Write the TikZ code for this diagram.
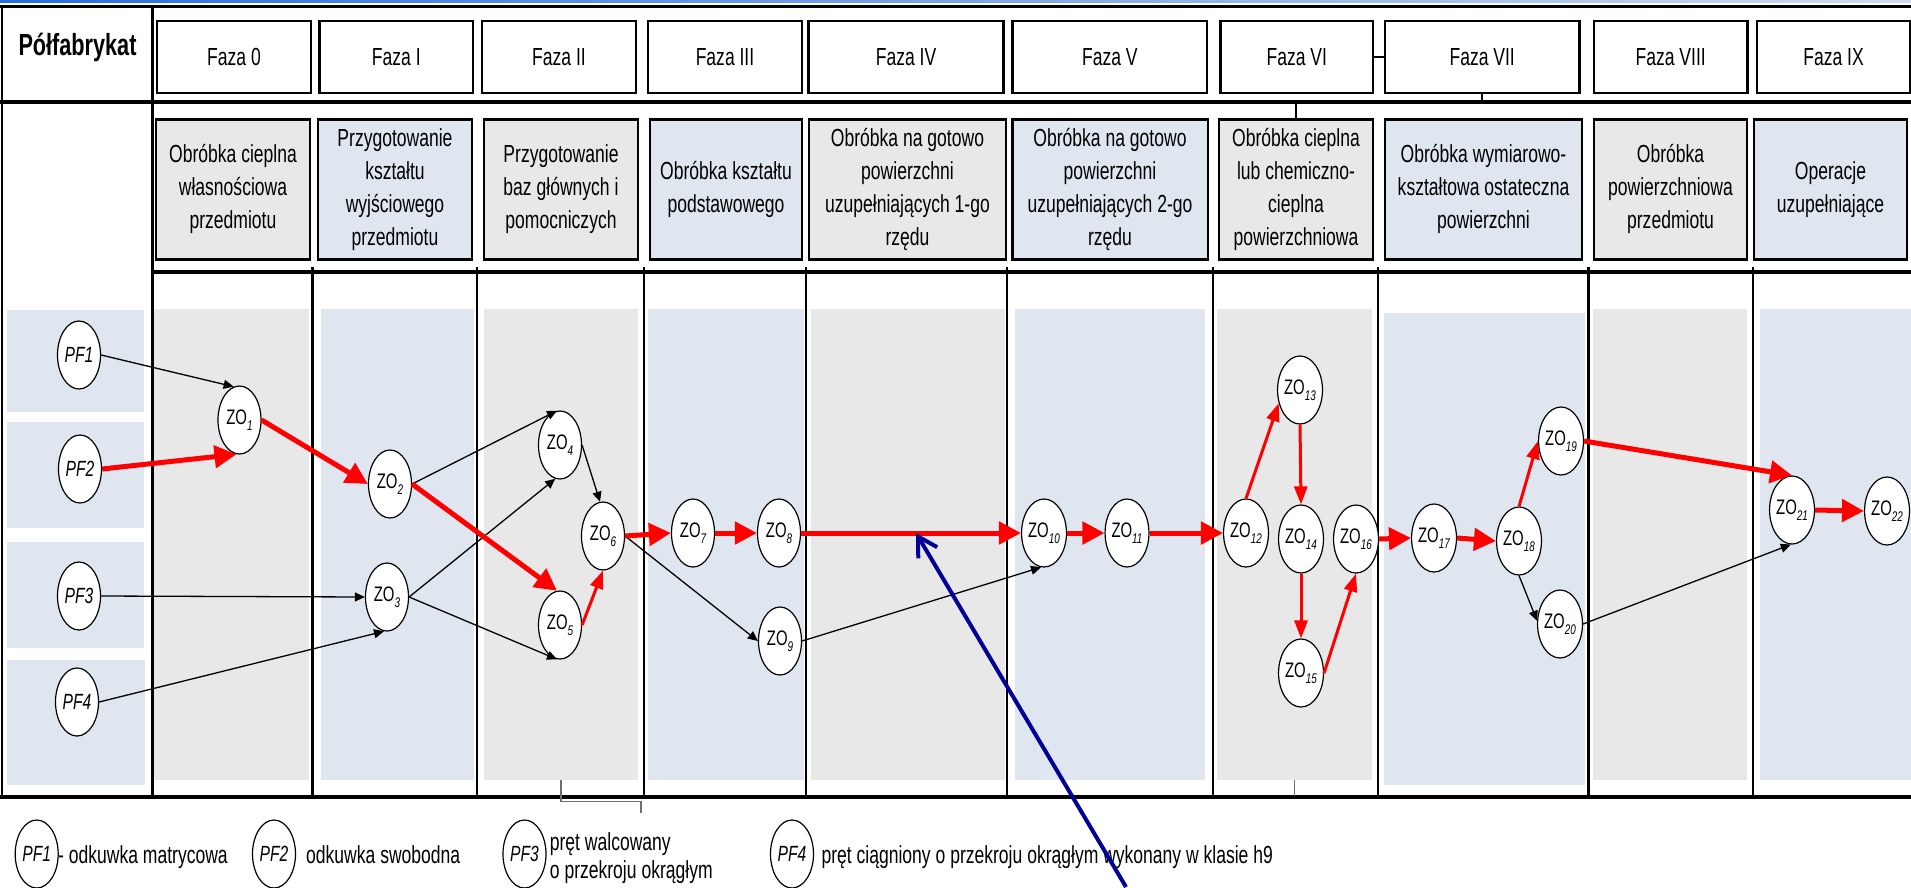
\documentclass[tikz,border=0pt]{standalone}
\usepackage{fontspec}
\setmainfont{Liberation Sans}[FakeStretch=0.71]
\usetikzlibrary{shapes.geometric,arrows.meta}

\definecolor{lanegray}{RGB}{232,232,232}
\definecolor{laneblue}{RGB}{223,230,240}
\definecolor{navyarrow}{RGB}{0,0,150}
\definecolor{barblue}{RGB}{40,110,220}
\definecolor{barlight}{RGB}{205,218,235}
\definecolor{tickgray}{RGB}{110,110,110}

\newcommand{\zolabel}[1]{ZO\raisebox{-0.3em}{\fontsize{14}{14}\selectfont\itshape #1}}

\tikzset{
	txt/.style={font=\fontsize{24.7}{33}\selectfont},
	phasebox/.style={draw, line width=2.5pt, fill=white, minimum height=72pt, inner sep=0pt, txt},
	descbox/.style={draw, line width=2.5pt, minimum height=140pt, inner sep=0pt, align=center, txt},
	zo/.style={ellipse, draw, line width=1.2pt, fill=white, minimum width=43pt, minimum height=68pt, inner sep=0pt, font=\fontsize{21}{21}\selectfont},
	pf/.style={zo, font=\fontsize{22}{22}\selectfont\itshape},
	flow/.style={red, line width=5pt, -{Triangle[length=22pt,width=22pt]}},
	flowthin/.style={red, line width=3pt, -{Triangle[length=18pt,width=13pt]}},
	link/.style={black, line width=1.3pt, -{Triangle[length=10pt,width=9pt]}},
	thickrule/.style={line width=3.5pt},
	colrule/.style={line width=2.5pt},
}

\begin{document}
\begin{tikzpicture}[x=1pt, y=-1pt]
	\useasboundingbox (0,0) rectangle (1911,887);
	\clip (0,0) rectangle (1911,887);

	% top bar
	\shade[left color=barblue, right color=barlight] (0,0) rectangle (1911,2.5);

	% lanes of the semi-products
	\fill[laneblue] (6.7,310) rectangle (144,411.7);
	\fill[laneblue] (6.7,421.7) rectangle (144,528.3);
	\fill[laneblue] (6.7,542.3) rectangle (144,648.3);
	\fill[laneblue] (6.7,660) rectangle (145,785);

	% lanes of the phases
	\fill[lanegray] (154,309) rectangle (309,780);
	\fill[laneblue] (320.5,309) rectangle (474,780);
	\fill[lanegray] (484,309) rectangle (638,780);
	\fill[laneblue] (648,309) rectangle (804,780);
	\fill[lanegray] (810.7,309) rectangle (1005,780);
	\fill[laneblue] (1015,309) rectangle (1204.5,780);
	\fill[lanegray] (1217,309) rectangle (1372,780);
	\fill[laneblue] (1384,313) rectangle (1584.5,785);
	\fill[lanegray] (1593,309) rectangle (1747.4,780);
	\fill[laneblue] (1760,309) rectangle (1911,780);

	% frame
	\draw[line width=3pt] (0,6.7) -- (1911,6.7);
	\draw[thickrule] (0,102) -- (1911,102);
	\draw[line width=4pt] (153,272) -- (1911,272);
	\draw[line width=4pt] (0,797) -- (1911,797);
	\draw[colrule] (2.2,6.7) -- (2.2,797);
	\draw[colrule] (152.7,6.7) -- (152.7,797);

	% column separators
	\draw[colrule] (312.5,267) -- (312.5,797);
	\draw[colrule] (476.8,267) -- (476.8,797);
	\draw[colrule] (644,267) -- (644,797);
	\draw[colrule] (806,267) -- (806,797);
	\draw[colrule] (1007,267) -- (1007,797);
	\draw[colrule] (1213,267) -- (1213,797);
	\draw[colrule] (1378,267) -- (1378,797);
	\draw[colrule] (1588.5,267) -- (1588.5,797);
	\draw[colrule] (1753,267) -- (1753,797);

	% small ticks
	\draw[tickgray, line width=1.5pt] (561,780) -- (561,801.7) -- (641,801.7) -- (641,813);
	\draw[tickgray, line width=1.5pt] (1294.6,780) -- (1294.6,796);

	% header
	\node[font=\fontsize{30.5}{30.5}\selectfont\bfseries, anchor=base, inner sep=0pt] (polfabrykat) at (77.5,55) {Półfabrykat};

	\node[phasebox, minimum width=154pt] (faza0) at (234,57) {Faza 0};
	\node[phasebox, minimum width=153.4pt] (faza1) at (396.3,57) {Faza I};
	\node[phasebox, minimum width=154pt] (faza2) at (559,57) {Faza II};
	\node[phasebox, minimum width=154pt] (faza3) at (725,57) {Faza III};
	\node[phasebox, minimum width=195pt] (faza4) at (906,57) {Faza IV};
	\node[phasebox, minimum width=194.5pt] (faza5) at (1109.8,57) {Faza V};
	\node[phasebox, minimum width=152.5pt] (faza6) at (1296.8,57) {Faza VI};
	\node[phasebox, minimum width=194.4pt] (faza7) at (1482.2,57) {Faza VII};
	\node[phasebox, minimum width=153.4pt] (faza8) at (1670.7,57) {Faza VIII};
	\node[phasebox, minimum width=153pt] (faza9) at (1833.5,57) {Faza IX};

	\draw[line width=1.5pt] (faza6.east) -- (faza7.west);
	\draw[line width=1.5pt] (faza7.south) -- ++(0,9);

	% descriptions of the phases
	\node[descbox, fill=lanegray, minimum width=154pt] (opis0) at (233,189.3) {Obróbka cieplna\\własnościowa\\przedmiotu};
	\node[descbox, fill=laneblue, minimum width=154pt] (opis1) at (395,189.3) {Przygotowanie\\kształtu\\wyjściowego\\przedmiotu};
	\node[descbox, fill=lanegray, minimum width=154pt] (opis2) at (561,189.3) {Przygotowanie\\baz głównych i\\pomocniczych};
	\node[descbox, fill=laneblue, minimum width=152pt] (opis3) at (726,189.3) {Obróbka kształtu\\podstawowego};
	\node[descbox, fill=lanegray, minimum width=197pt] (opis4) at (907.5,189.3) {Obróbka na gotowo\\powierzchni\\uzupełniających 1-go\\rzędu};
	\node[descbox, fill=laneblue, minimum width=195.5pt] (opis5) at (1110,189.3) {Obróbka na gotowo\\powierzchni\\uzupełniających 2-go\\rzędu};
	\node[descbox, fill=lanegray, minimum width=154pt] (opis6) at (1296,189.3) {Obróbka cieplna\\lub chemiczno-\\cieplna\\powierzchniowa};
	\node[descbox, fill=laneblue, minimum width=197pt] (opis7) at (1483.5,189.3) {Obróbka wymiarowo-\\kształtowa ostateczna\\powierzchni};
	\node[descbox, fill=lanegray, minimum width=153pt] (opis8) at (1670.5,189.3) {Obróbka\\powierzchniowa\\przedmiotu};
	\node[descbox, fill=laneblue, minimum width=153pt] (opis9) at (1830.5,189.3) {Operacje\\uzupełniające};

	\draw[line width=1.5pt] (opis6.north) -- ++(0,-15);

	% semi-products
	\node[pf] (PF1) at (79,355) {PF1};
	\node[pf] (PF2) at (80,469) {PF2};
	\node[pf] (PF3) at (79,596) {PF3};
	\node[pf] (PF4) at (77,702) {PF4};

	% operations
	\node[zo] (ZO1) at (239.5,420) {\zolabel{1}};
	\node[zo] (ZO2) at (390,484) {\zolabel{2}};
	\node[zo] (ZO3) at (387,597) {\zolabel{3}};
	\node[zo] (ZO4) at (560,445) {\zolabel{4}};
	\node[zo] (ZO5) at (560,625) {\zolabel{5}};
	\node[zo] (ZO6) at (603,536) {\zolabel{6}};
	\node[zo] (ZO7) at (693,533) {\zolabel{7}};
	\node[zo] (ZO8) at (779,533) {\zolabel{8}};
	\node[zo] (ZO9) at (780,641) {\zolabel{9}};
	\node[zo] (ZO10) at (1044,533) {\zolabel{10}};
	\node[zo] (ZO11) at (1127,533) {\zolabel{11}};
	\node[zo] (ZO12) at (1246,533) {\zolabel{12}};
	\node[zo] (ZO13) at (1300,390) {\zolabel{13}};
	\node[zo] (ZO14) at (1301,539) {\zolabel{14}};
	\node[zo] (ZO15) at (1301,673) {\zolabel{15}};
	\node[zo] (ZO16) at (1356,539) {\zolabel{16}};
	\node[zo] (ZO17) at (1434,538) {\zolabel{17}};
	\node[zo] (ZO18) at (1519,541) {\zolabel{18}};
	\node[zo] (ZO19) at (1561,441) {\zolabel{19}};
	\node[zo] (ZO20) at (1560,624) {\zolabel{20}};
	\node[zo] (ZO21) at (1792,510) {\zolabel{21}};
	\node[zo] (ZO22) at (1887,511) {\zolabel{22}};

	% side links
	\draw[link] (PF1.east) -- (ZO1.100);
	\draw[link] (PF3.east) -- (ZO3.west);
	\draw[link] (PF4.east) -- (ZO3.265);
	\draw[link] (ZO2.east) -- (ZO4.95);
	\draw[link] (ZO3.east) -- (ZO4.262);
	\draw[link] (ZO3.east) -- (ZO5.265);
	\draw[link] (ZO4.east) -- (ZO6.95);
	\draw[link] (ZO6.east) -- (ZO9.west);
	\draw[link] (ZO9.east) -- (ZO10.265);
	\draw[link] (ZO18.south) -- (ZO20.172);
	\draw[link] (ZO20.east) -- (ZO21.268);

	% main path
	\draw[flow] (PF2.east) -- (ZO1.265);
	\draw[flow] (ZO1.east) -- (ZO2.west);
	\draw[flow] (ZO2.east) -- (ZO5.95);
	\draw[flowthin] (ZO5.east) -- (ZO6.south);
	\draw[flow] (ZO6.east) -- (ZO7.west);
	\draw[flow] (ZO7.east) -- (ZO8.west);
	\draw[flow] (ZO8.east) -- (ZO10.west);
	\draw[flow] (ZO10.east) -- (ZO11.west);
	\draw[flow] (ZO11.east) -- (ZO12.west);
	\draw[flowthin] (ZO12.north) -- (ZO13.212);
	\draw[flowthin] (ZO13.south) -- (ZO14.north);
	\draw[flowthin] (ZO14.south) -- (ZO15.north);
	\draw[flowthin] (ZO15.east) -- (ZO16.south);
	\draw[flow] (ZO16.east) -- (ZO17.west);
	\draw[flow] (ZO17.east) -- (ZO18.west);
	\draw[flowthin] (ZO18.north) -- (ZO19.west);
	\draw[flow] (ZO19.east) -- (ZO21.north);
	\draw[flow] (ZO21.east) -- (ZO22.west);

	% legend
	\node[pf] (legPF1) at (36.7,854) {PF1};
	\node[txt, anchor=base west, inner sep=0pt] (legPF1txt) at (58,863) {- odkuwka matrycowa};
	\node[pf] (legPF2) at (274,854) {PF2};
	\node[txt, anchor=base west, inner sep=0pt] (legPF2txt) at (306,863) {odkuwka swobodna};
	\node[pf] (legPF3) at (524.5,854) {PF3};
	\node[font=\fontsize{24.7}{28}\selectfont, align=left, anchor=north west, inner sep=0pt] (legPF3txt) at (549.7,832) {pręt walcowany\\o przekroju okrągłym};
	\node[pf] (legPF4) at (792,854) {PF4};
	\node[txt, anchor=base west, inner sep=0pt] (legPF4txt) at (821.4,863) {pręt ciągniony o przekroju okrągłym wykonany w klasie h9};

	% pointer
	\coordinate (pointerTip) at (916,533);
	\coordinate (pointerEnd) at (1126,887);
	\draw[navyarrow, line width=4pt, -{Straight Barb[length=19pt,width=22pt]}] (pointerEnd) -- (pointerTip);

\end{tikzpicture}
\end{document}
